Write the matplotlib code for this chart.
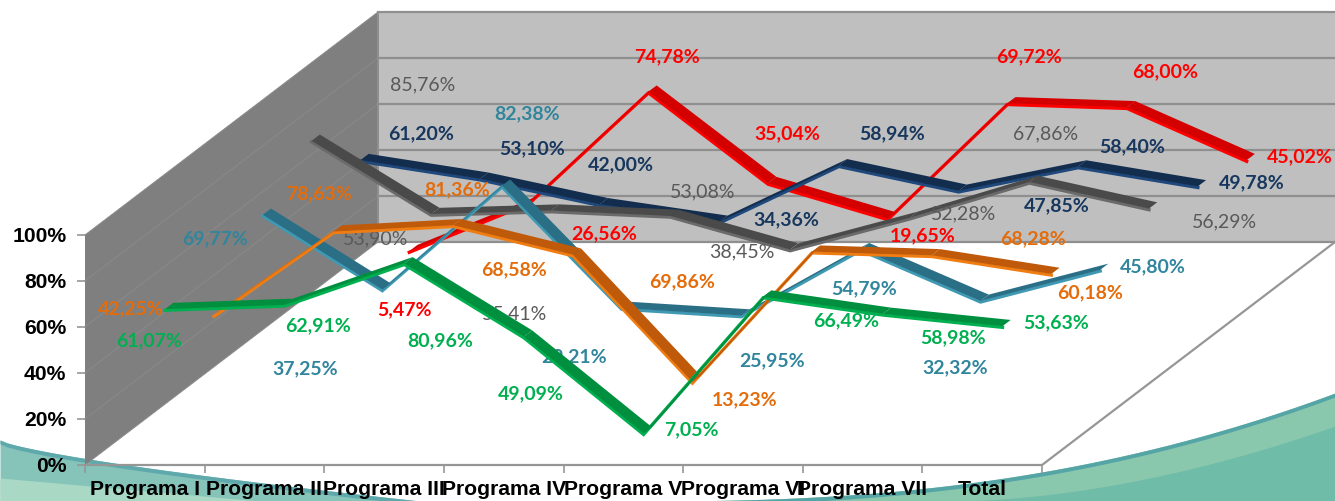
import numpy as np
import matplotlib
matplotlib.use('Agg')
import matplotlib.pyplot as plt
from matplotlib.transforms import Affine2D

W, H = 1335, 501

categories = ['Programa I', 'Programa II', 'Programa III', 'Programa IV',
              'Programa V', 'Programa VI', 'Programa VII', 'Total']

# values in percent, one list per series
green_vals = [61.07, 62.91, 80.96, 49.09, 7.05, 66.49, 58.98, 53.63]
orange_vals = [42.25, 78.63, 81.36, 68.58, 13.23, 69.86, 68.28, 60.18]
teal_vals = [69.77, 37.25, 82.38, 29.21, 25.95, 54.79, 32.32, 45.80]
gray_vals = [85.76, 53.90, 55.41, 53.08, 38.45, 52.28, 67.86, 56.29]
navy_vals = [61.20, 53.10, 42.00, 34.36, 58.94, 47.85, 58.40, 49.78]
red_vals = [5.47, 26.56, 74.78, 35.04, 19.65, 69.72, 68.00, 45.02]

# where the data labels sit in the picture (pixels, centre of text)
green_lab = [(149, 341), (318, 326), (440, 341), (531, 394), (691, 430), (846, 321), (953, 338), (1056, 323)]
orange_lab = [(131, 309), (319, 194), (457, 190), (514, 270), (745, 400), (682, 282), (1033, 239), (1090, 293)]
teal_lab = [(215, 239), (305, 369), (527, 114), (574, 357), (772, 361), (864, 289), (955, 368), (1153, 267)]
gray_lab = [(423, 85), (376, 239), (515, 314), (703, 192), (742, 252), (964, 214), (1046, 134), (1224, 222)]
navy_lab = [(421, 134), (532, 149), (621, 165), (786, 220), (892, 134), (1057, 206), (1132, 147), (1252, 183)]
red_lab = [(404, 310), (604, 234), (667, 57), (787, 134), (923, 236), (1029, 57), (1165, 72), (1300, 157)]

# chart box in pixels
LEFT, BOTTOM, TOP = 85, 465, 12
CAT_W = 119.625
PCT_H = 2.3
DEPTH_X = 293 / CAT_W   # whole depth, in category units
DEPTH_Y = 223 / PCT_H   # whole depth, in percent units
HALF = 0.014            # half width of a ribbon, as part of the depth


def project(x, v, d):
    return x + d * DEPTH_X, v + d * DEPTH_Y


fig = plt.figure(figsize=(W / 100, H / 100), dpi=100, facecolor='white')
pix = Affine2D().scale(1 / W, -1 / H).translate(0, 1) + fig.transFigure

# background swooshes
bg = fig.add_axes([0, 0, 1, 1], zorder=0)
bg.set_xlim(0, W)
bg.set_ylim(H, 0)
bg.axis('off')
xl = np.linspace(0, 420, 60)
yl = 440 + 61 * (xl / 420) ** 0.75
bg.fill_between(xl, yl, H, color='#86c4ba', lw=0)
bg.fill_between(xl, yl, yl + 4, color='#5fa9ad', lw=0)
xl2 = np.linspace(0, 260, 30)
bg.fill_between(xl2, 478 + 23 * (xl2 / 260), H, color='#a9d8c4', lw=0)
xr = np.linspace(640, W, 80)
yr = 501 - 108 * ((xr - 640) / (W - 640)) ** 2.4
bg.fill_between(xr, yr, H, color='#8ac8ae', lw=0)
bg.fill_between(xr, yr, yr + 4, color='#56a5a6', lw=0)
yr2 = 501 - 75 * ((xr - 950).clip(0) / (W - 950)) ** 1.8
bg.fill_between(xr, yr2, H, color='#6fbca8', lw=0)

ax = fig.add_axes([LEFT / W, 1 - BOTTOM / H, (W - LEFT) / W, (BOTTOM - TOP) / H], zorder=1)
ax.patch.set_alpha(0)
ax.set_xlim(0, (W - LEFT) / CAT_W)
ax.set_ylim(0, (BOTTOM - TOP) / PCT_H)
for s in ax.spines.values():
    s.set_visible(False)

n = len(categories)
grid_vals = [0, 20, 40, 60, 80, 100]

# side wall, back wall
p = [project(0, 0, 0), project(0, 0, 1), project(0, 100, 1), project(0, 100, 0)]
ax.fill(*zip(*p), color='#7f7f7f', lw=0, zorder=1)
p = [project(0, 0, 1), project(n, 0, 1), project(n, 100, 1), project(0, 100, 1)]
ax.fill(*zip(*p), color='#bfbfbf', lw=0, zorder=1)
for g in grid_vals:
    a, b, c = project(0, g, 0), project(0, g, 1), project(n, g, 1)
    ax.plot([a[0], b[0]], [a[1], b[1]], color='#8a8a8a', lw=0.7, zorder=2, clip_on=False)
    ax.plot([b[0], c[0]], [b[1], c[1]], color='#8f8f8f', lw=1.6, zorder=2, clip_on=False)
ax.plot(*zip(project(0, 0, 1), project(0, 100, 1)), color='#8f8f8f', lw=1.4, zorder=2)
# floor edges
ax.plot(*zip(project(0, 0, 0), project(n, 0, 0), project(n, 0, 1)), color='#969696', lw=1.6, zorder=2, clip_on=False)

ax.set_yticks(grid_vals)
ax.set_yticklabels([f'{g}%' for g in grid_vals], fontfamily='Liberation Sans', fontweight='bold', fontsize=15.2)
ax.set_xticks(range(n + 1))
ax.set_xticklabels([])
ax.set_xticks(np.arange(n) + 0.5, minor=True)
ax.set_xticklabels(categories, minor=True, fontfamily='Liberation Sans', fontweight='bold', fontsize=15.2)
ax.tick_params(axis='both', which='major', color='#969696', width=1.2, length=5.5)
ax.tick_params(axis='x', which='minor', length=0, pad=11)
ax.tick_params(axis='y', pad=8)

# back to front
series = [
    (red_vals, red_lab, 11 / 12, '#d40000', '#ff0000', '#ff0000', 'bold'),
    (navy_vals, navy_lab, 9 / 12, '#132d4f', '#1f497d', '#17375e', 'bold'),
    (gray_vals, gray_lab, 7 / 12, '#4a4a4a', '#6a6a6a', '#595959', 'normal'),
    (teal_vals, teal_lab, 5 / 12, '#2a6f86', '#4099b3', '#31859c', 'bold'),
    (orange_vals, orange_lab, 3 / 12, '#bf5a0a', '#f07d12', '#e46c0a', 'bold'),
    (green_vals, green_lab, 1 / 12, '#008f3e', '#00b050', '#00b050', 'bold'),
]

for k, (vals, labs, d, top_col, edge_col, txt_col, weight) in enumerate(series):
    z = 10 + 2 * k
    xs = np.arange(n) + 0.5
    fx, fy = project(xs, np.array(vals), d - HALF)
    ax.plot(fx, np.array(fy) - 0.5, color=edge_col, lw=2.4, zorder=z, solid_joinstyle='miter', clip_on=False)
    for i in range(n - 1):
        p = [project(xs[i], vals[i], d - HALF), project(xs[i + 1], vals[i + 1], d - HALF),
             project(xs[i + 1], vals[i + 1], d + HALF), project(xs[i], vals[i], d + HALF)]
        ax.fill(*zip(*p), color=top_col, lw=0, zorder=z, clip_on=False)
    for v, (lx, ly) in zip(vals, labs):
        ax.text(lx, ly, f'{v:.2f}%'.replace('.', ','), transform=pix, color=txt_col, fontsize=14,
                fontfamily='Lato', fontweight=weight, ha='center', va='center', zorder=z + 1, clip_on=False)

fig.savefig('out.png', dpi=100)
